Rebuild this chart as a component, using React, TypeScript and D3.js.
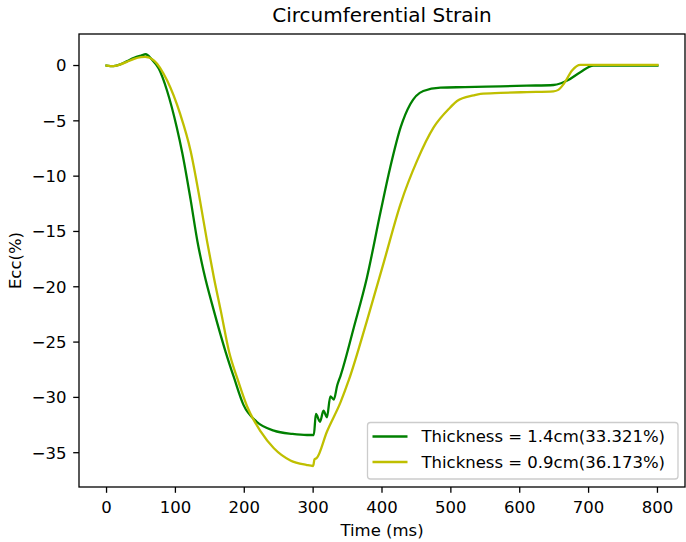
import React from "react";
import * as d3 from "d3";

const title = "Circumferential Strain";
const xLabel = "Time (ms)";
const yLabel = "Ecc(%)";
const xTicks = [0, 100, 200, 300, 400, 500, 600, 700, 800];
const yTicks = [0, -5, -10, -15, -20, -25, -30, -35];

const seriesNames = ["Thickness = 1.4cm(33.321%)", "Thickness = 0.9cm(36.173%)"];
const seriesColors = ["#008000", "#bfbf00"];

const greenT = [0, 10, 20, 30, 40, 50, 57, 65, 76, 88, 102, 110, 122, 132, 141, 156, 173, 185, 199, 218, 243, 270, 291, 301, 304, 310, 315, 320, 325, 330, 335, 340, 359, 378, 398, 412, 427, 441, 460, 485, 520, 572, 610, 649, 660, 669, 688, 707, 730, 800];
const greenV = [0, -0.05, 0.1, 0.4, 0.7, 0.9, 1.02, 0.6, -0.3, -2.3, -5.6, -7.9, -12.1, -15.9, -18.6, -22.2, -25.9, -28.2, -30.7, -32.2, -33.0, -33.3, -33.4, -33.4, -31.5, -32.2, -31.2, -31.8, -29.9, -30.2, -28.9, -28.0, -23.7, -19.2, -13.2, -9.2, -5.6, -3.5, -2.3, -2.0, -1.95, -1.88, -1.82, -1.76, -1.6, -1.36, -0.6, 0, 0, 0];

const yellowT = [0, 10, 20, 30, 40, 50, 56, 69, 88, 107, 122, 136, 146, 156, 166, 178, 190, 204, 224, 243, 267, 290, 300, 302, 305, 320, 340, 352, 378, 403, 427, 451, 475, 499, 509, 533, 543, 572, 610, 649, 656, 664, 676, 688, 700, 800];
const yellowV = [0, -0.05, 0.1, 0.35, 0.6, 0.75, 0.78, 0.45, -1.36, -4.4, -7.7, -12.3, -15.9, -19.2, -22.2, -25.9, -28.3, -30.8, -33.1, -34.6, -35.7, -36.1, -36.2, -35.6, -35.5, -33.1, -30.4, -28.4, -23.1, -17.7, -12.5, -8.6, -5.6, -3.8, -3.2, -2.7, -2.57, -2.48, -2.4, -2.33, -2.2, -1.66, -0.45, 0.05, 0.05, 0.05];

const W = 686;
const H = 542;
const L = 79, R = 685, T = 34, B = 487;
const FONT = "DejaVu Sans, sans-serif";
const FS = 16.5;

export default function App() {
  const x = d3.scaleLinear().domain([-40, 840]).range([L, R]);
  const y = d3.scaleLinear().domain([-38.1, 2.85]).range([B, T]);
  const line = d3
    .line<[number, number]>()
    .x((d) => x(d[0]))
    .y((d) => y(d[1]))
    .curve(d3.curveMonotoneX);
  const series = [
    greenT.map((t, i) => [t, greenV[i]] as [number, number]),
    yellowT.map((t, i) => [t, yellowV[i]] as [number, number]),
  ];
  const lx = 367.5, ly = 422.5, lw = 310.5, lh = 56.5;
  return (
    <svg width={W} height={H} style={{ position: "absolute", left: 0, top: 0, background: "#fff" }} fontFamily={FONT}>
      <rect x={0} y={0} width={W} height={H} fill="#fff" />
      <text x={(L + R) / 2} y={22} textAnchor="middle" fontSize={20} fill="#000">{title}</text>
      <defs>
        <clipPath id="clip"><rect x={L} y={T} width={R - L} height={B - T} /></clipPath>
      </defs>
      <g clipPath="url(#clip)">
        {series.map((s, i) => (
          <path key={i} d={line(s) || ""} fill="none" stroke={seriesColors[i]} strokeWidth={2.3} strokeLinejoin="round" strokeLinecap="square" />
        ))}
      </g>
      <rect x={L} y={T} width={R - L} height={B - T} fill="none" stroke="#000" strokeWidth={1.3} />
      {xTicks.map((t) => (
        <g key={t}>
          <line x1={x(t)} x2={x(t)} y1={B} y2={B + 5.8} stroke="#000" strokeWidth={1.3} />
          <text x={x(t)} y={B + 25.5} textAnchor="middle" fontSize={FS} fill="#000">{t}</text>
        </g>
      ))}
      {yTicks.map((t) => (
        <g key={t}>
          <line x1={L - 5.8} x2={L} y1={y(t)} y2={y(t)} stroke="#000" strokeWidth={1.3} />
          <text x={L - 12.5} y={y(t)} dy="0.36em" textAnchor="end" fontSize={FS} fill="#000">{t === 0 ? "0" : "\u2212" + Math.abs(t)}</text>
        </g>
      ))}
      <text x={(L + R) / 2} y={536} textAnchor="middle" fontSize={FS} fill="#000">{xLabel}</text>
      <text transform={`translate(21,${(T + B) / 2}) rotate(-90)`} textAnchor="middle" fontSize={FS} fill="#000">{yLabel}</text>
      <rect x={lx} y={ly} width={lw} height={lh} rx={3} fill="#fff" fillOpacity={0.8} stroke="#ccc" strokeWidth={1.3} />
      {seriesNames.map((n, i) => (
        <g key={n}>
          <line x1={lx + 5} x2={lx + 40} y1={ly + 14 + i * 25.5} y2={ly + 14 + i * 25.5} stroke={seriesColors[i]} strokeWidth={2.3} />
          <text x={lx + 54} y={ly + 14 + i * 25.5} dy="0.36em" fontSize={FS} fill="#000">{n}</text>
        </g>
      ))}
    </svg>
  );
}
